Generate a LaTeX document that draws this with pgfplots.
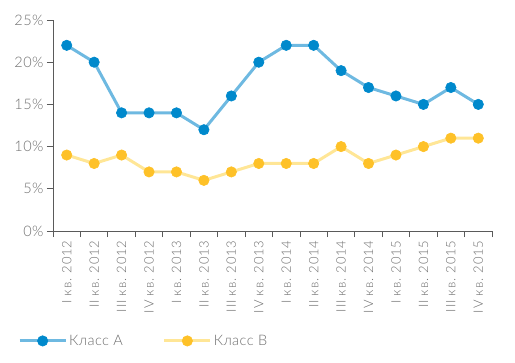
\documentclass[border=0pt]{standalone}
\usepackage{pgfplots}
\pgfplotsset{compat=1.18}
\usepackage{fontspec}
\setmainfont{Lato}[UprightFont={* Light}, LetterSpace=3]
\definecolor{axgrey}{RGB}{90,90,90}
\definecolor{txtgrey}{RGB}{110,110,110}
\definecolor{lineA}{RGB}{110,185,225}
\definecolor{markA}{RGB}{0,137,204}
\definecolor{lineB}{RGB}{255,230,150}
\definecolor{markB}{RGB}{254,193,40}
\newfontfamily\tickfont{Lato}[UprightFont={* Light}, LetterSpace=6]
\begin{document}
\begin{tikzpicture}
\path[use as bounding box] (0,0) rectangle (515bp,363bp);
\begin{axis}[
  at={(53bp,132bp)}, anchor=south west,
  scale only axis, width=439bp, height=211bp,
  xmin=-0.5, xmax=15.5, ymin=0, ymax=25,
  axis x line*=bottom, axis y line*=left,
  axis line style={axgrey, line width=0.8pt},
  xtick={0,...,15},
  xticklabels={I кв. 2012,II кв. 2012,III кв. 2012,IV кв. 2012,I кв. 2013,II кв. 2013,III кв. 2013,IV кв. 2013,I кв. 2014,II кв. 2014,III кв. 2014,IV кв. 2014,I кв. 2015,II кв. 2015,III кв. 2015,IV кв. 2015},
  x tick label style={rotate=90, anchor=east, font=\tickfont\fontsize{13bp}{13bp}\selectfont, text=txtgrey, xshift=0bp, yshift=0bp},
  major x tick style={draw=none},
  minor xtick={-0.5,0.5,...,15.5},
  minor tick length=6bp,
  tick align=outside,
  every tick/.style={axgrey, line width=0.8pt},
  ytick={0,5,10,15,20,25},
  yticklabels={0\%,5\%,10\%,15\%,20\%,25\%},
  major tick length=6bp,
  y tick label style={font=\fontsize{14.5bp}{16bp}\selectfont, text=txtgrey},
  legend style={at={(axis description cs:-0.0866,-0.521)}, anchor=west, draw=none, fill=none,
    font=\fontsize{14.5bp}{16bp}\selectfont, text=txtgrey, legend columns=2,
    /tikz/every even column/.append style={column sep=38bp}},
  legend image code/.code={\draw[mark repeat=2, mark phase=2, #1] plot coordinates {(0bp,0bp) (23bp,0bp) (46bp,0bp)};},
  clip=false,
]
\addplot[lineA, line width=3pt, mark=*, mark size=5.2bp, mark options={fill=markA, draw=markA, line width=0.6pt}]
 coordinates {(0,22)(1,20)(2,14)(3,14)(4,14)(5,12)(6,16)(7,20)(8,22)(9,22)(10,19)(11,17)(12,16)(13,15)(14,17)(15,15)};
\addlegendentry{Класс А}
\addplot[lineB, line width=3pt, mark=*, mark size=5.2bp, mark options={fill=markB, draw=markB, line width=0.6pt}]
 coordinates {(0,9)(1,8)(2,9)(3,7)(4,7)(5,6)(6,7)(7,8)(8,8)(9,8)(10,10)(11,8)(12,9)(13,10)(14,11)(15,11)};
\addlegendentry{Класс В}
\end{axis}
\end{tikzpicture}
\end{document}
